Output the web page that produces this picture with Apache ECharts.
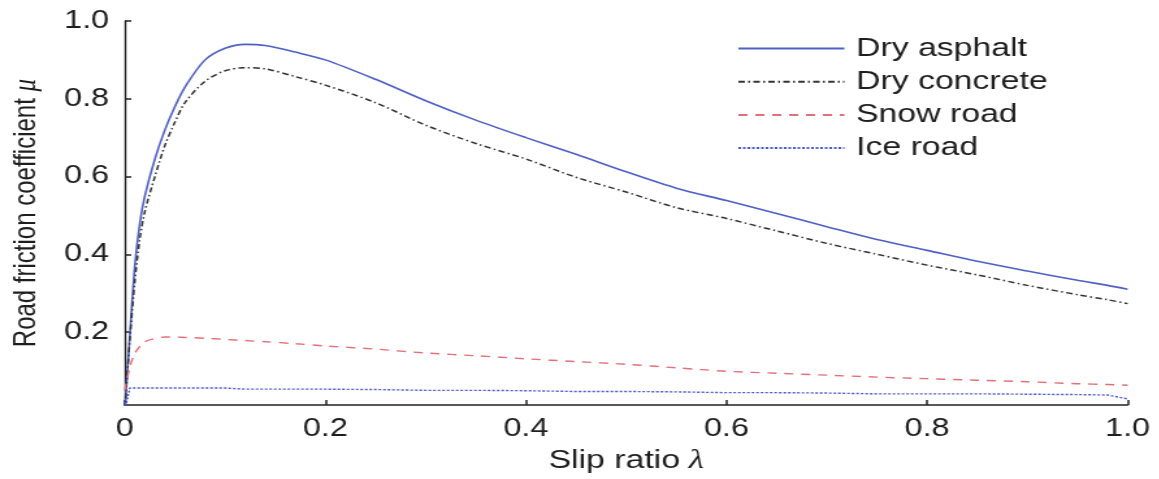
<!DOCTYPE html>
<html>
<head>
<meta charset="utf-8">
<script src="https://cdn.jsdelivr.net/npm/echarts@6/dist/echarts.min.js"></script>
<style>
html,body{margin:0;padding:0;background:#fff;overflow:hidden;}
#wrap{width:1159px;height:479px;overflow:hidden;}
#chart{width:891.54px;height:479px;transform:scaleX(1.3);transform-origin:0 0;}
</style>
</head>
<body>
<div id="wrap"><div id="chart"></div></div>
<script>
const slipRatio = [0, 0.005, 0.01, 0.015, 0.02, 0.03, 0.04, 0.05, 0.06, 0.08, 0.1, 0.12, 0.14, 0.17, 0.2, 0.25, 0.3, 0.35, 0.4, 0.45, 0.5, 0.55, 0.6, 0.65, 0.7, 0.75, 0.8, 0.85, 0.9, 0.95, 0.98, 1.0];
const dryAsphalt = [0, 0.19, 0.37, 0.48, 0.55, 0.645, 0.72, 0.78, 0.83, 0.9, 0.93, 0.94, 0.937, 0.92, 0.9, 0.85, 0.795, 0.745, 0.7, 0.657, 0.612, 0.57, 0.538, 0.505, 0.471, 0.438, 0.41, 0.382, 0.357, 0.333, 0.32, 0.31];
const dryConcrete = [0, 0.18, 0.33, 0.44, 0.51, 0.6, 0.68, 0.74, 0.79, 0.845, 0.872, 0.88, 0.877, 0.857, 0.835, 0.79, 0.732, 0.685, 0.645, 0.598, 0.56, 0.52, 0.492, 0.46, 0.428, 0.4, 0.372, 0.347, 0.32, 0.296, 0.283, 0.273];
const snowRoad = [0.05, 0.11, 0.145, 0.163, 0.175, 0.183, 0.187, 0.187, 0.186, 0.184, 0.181, 0.178, 0.175, 0.17, 0.164, 0.156, 0.146, 0.139, 0.131, 0.124, 0.117, 0.108, 0.099, 0.094, 0.089, 0.084, 0.08, 0.076, 0.072, 0.067, 0.065, 0.063];
const iceRoad = [0, 0.056, 0.056, 0.056, 0.056, 0.056, 0.056, 0.056, 0.056, 0.056, 0.056, 0.053, 0.053, 0.053, 0.053, 0.052, 0.05, 0.05, 0.049, 0.047, 0.047, 0.046, 0.044, 0.044, 0.043, 0.041, 0.041, 0.041, 0.04, 0.039, 0.038, 0.028];
const seriesNames = ['Dry asphalt', 'Dry concrete', 'Snow road', 'Ice road'];
const xTicks = [0, 0.2, 0.4, 0.6, 0.8, 1.0];
const yTicks = [0.2, 0.4, 0.6, 0.8, 1.0];

function pairs(ys){ return slipRatio.map((x,i)=>[x, ys[i]]); }

const font = 'Liberation Sans, Arial, sans-serif';
const txt = '#1e1e1e';
const chart = echarts.init(document.getElementById('chart'));
chart.setOption({
  animation: false,
  backgroundColor: '#fff',
  grid: { left: 95.8, right: 24.6, top: 21, bottom: 61 },
  legend: {
    orient: 'vertical',
    left: 567,
    top: 35.5,
    padding: 0,
    itemWidth: 81.5,
    itemHeight: 20,
    itemGap: 7.2,
    data: seriesNames,
    itemStyle: { opacity: 0 },
    textStyle: { fontFamily: font, fontSize: 26, color: txt, lineHeight: 25, padding: [0,0,0,4] }
  },
  xAxis: {
    type: 'value',
    min: 0, max: 1, interval: 0.2,
    name: '{a|Slip ratio}  {b|λ}',
    nameLocation: 'middle',
    nameGap: 41,
    nameTextStyle: {
      rich: {
        a: { fontFamily: font, fontSize: 26, color: txt },
        b: { fontFamily: 'Liberation Serif, serif', fontStyle: 'italic', fontSize: 27, color: txt }
      }
    },
    axisLine: { onZero: false, lineStyle: { color: '#222', width: 1.6 } },
    axisTick: { inside: true, length: 5, lineStyle: { color: '#222', width: 1.5 }, customValues: xTicks },
    axisLabel: {
      customValues: xTicks,
      fontFamily: font, fontSize: 25, color: txt, margin: 12,
      formatter: v => v === 0 ? '0' : v.toFixed(1)
    },
    splitLine: { show: false }
  },
  yAxis: {
    type: 'value',
    min: 0.012, max: 1,
    name: '{a|Road friction coefficient}  {b|μ}',
    nameLocation: 'middle',
    nameGap: 63,
    nameRotate: 90,
    nameTextStyle: {
      rich: {
        a: { fontFamily: font, fontSize: 24, color: txt },
        b: { fontFamily: 'Liberation Serif, serif', fontStyle: 'italic', fontSize: 25, color: txt }
      }
    },
    axisLine: { show: true, onZero: false, lineStyle: { color: '#222', width: 1.4 } },
    axisTick: { show: true, inside: true, length: 5, lineStyle: { color: '#222', width: 1.5 }, customValues: yTicks },
    axisLabel: {
      customValues: yTicks,
      fontFamily: font, fontSize: 25, color: txt, margin: 12,
      formatter: v => v.toFixed(1)
    },
    splitLine: { show: false }
  },
  series: [
    { name: seriesNames[0], type: 'line', data: pairs(dryAsphalt), symbol: 'none', smooth: 0.3,
      lineStyle: { color: '#4f60c6', width: 1.6, type: 'solid' }, itemStyle: { color: '#4f60c6', opacity: 0 } },
    { name: seriesNames[1], type: 'line', data: pairs(dryConcrete), symbol: 'none', smooth: 0.3,
      lineStyle: { color: '#333', width: 1.5, type: [5, 2.5, 1.5, 2.5] }, itemStyle: { color: '#333', opacity: 0 } },
    { name: seriesNames[2], type: 'line', data: pairs(snowRoad), symbol: 'none', smooth: 0.3,
      lineStyle: { color: '#e0707a', width: 1.4, type: [7, 6] }, itemStyle: { color: '#e0707a', opacity: 0 } },
    { name: seriesNames[3], type: 'line', data: pairs(iceRoad), symbol: 'none',
      lineStyle: { color: '#4a58d0', width: 1.4, type: [2, 1.5] }, itemStyle: { color: '#4a58d0', opacity: 0 } }
  ]
});
</script>
</body>
</html>
